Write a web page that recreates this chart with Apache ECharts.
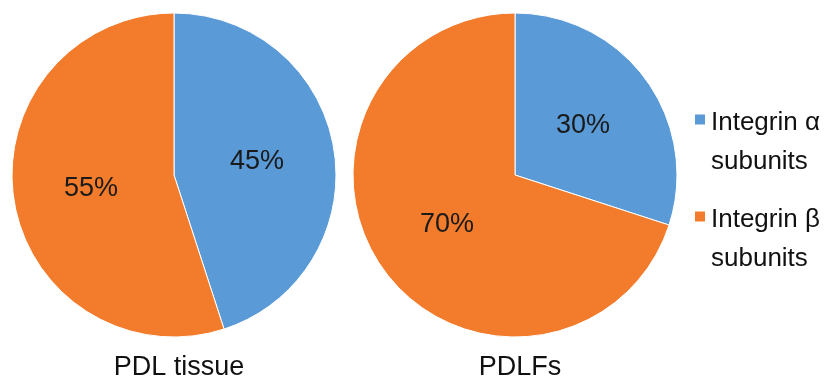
<!DOCTYPE html>
<html>
<head>
<meta charset="utf-8">
<script src="https://cdn.jsdelivr.net/npm/echarts@6/dist/echarts.min.js"></script>
<style>
html,body{margin:0;padding:0;background:#fff;}
#chart{width:836px;height:381px;}
</style>
</head>
<body>
<div id="chart"></div>
<script>
const groups = ['PDL tissue', 'PDLFs'];
const categories = ['Integrin α\nsubunits', 'Integrin β\nsubunits'];
const alphaValues = [45, 30];
const betaValues = [55, 70];
const colors = ['#5A9AD6', '#F27C2C'];

const centersX = [174, 515];
const FONT = '"Liberation Sans", Arial, sans-serif';

const chart = echarts.init(document.getElementById('chart'), null, {renderer: 'canvas'});

const series = groups.map((g, i) => ({
  type: 'pie',
  name: g,
  center: [centersX[i], 175],
  radius: 162,
  startAngle: 90,
  clockwise: true,
  animation: false,
  label: {
    show: true,
    position: 'inside',
    formatter: '{c}%',
    fontSize: 27,
    fontFamily: FONT,
    color: '#1a1a1a'
  },
  labelLine: {show: false},
  itemStyle: {borderColor: '#ffffff', borderWidth: 1},
  emphasis: {disabled: true},
  data: [
    {name: categories[0], value: alphaValues[i]},
    {name: categories[1], value: betaValues[i]}
  ]
}));

const L = 39;
chart.setOption({
  animation: false,
  color: colors,
  title: groups.map((g, i) => ({
    text: g,
    left: centersX[i],
    textAlign: 'center',
    top: 348,
    textStyle: {fontSize: 27, fontWeight: 'normal', fontFamily: FONT, color: '#111', lineHeight: 30}
  })),
  legend: {
    orient: 'vertical',
    left: 693,
    top: 75.5,
    padding: 0,
    itemWidth: 12,
    itemHeight: 12,
    itemGap: -2,
    icon: 'rect',
    formatter: function (name) {
      return '{s| }\n' + name.split('\n').map(t => '{a|' + t + '}').join('\n');
    },
    textStyle: {
      fontSize: 26,
      fontFamily: FONT,
      color: '#111',
      rich: {
        s: {fontSize: 10, lineHeight: L + 6},
        a: {fontSize: 26, fontFamily: FONT, color: '#111', lineHeight: L}
      }
    },
    data: categories
  },
  series: series
});
</script>
</body>
</html>
